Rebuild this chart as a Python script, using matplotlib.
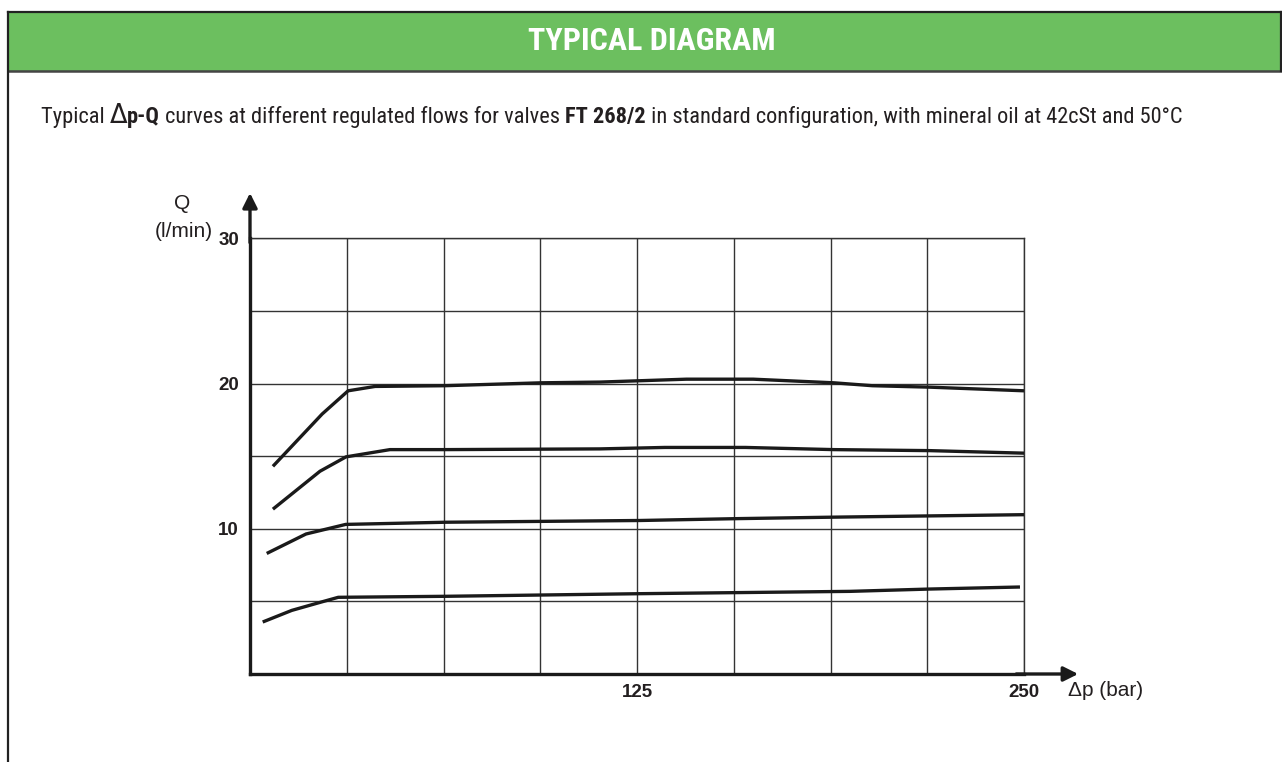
import numpy as np
import matplotlib
matplotlib.use("Agg")
import matplotlib.pyplot as plt
from matplotlib import font_manager
from matplotlib.patches import Rectangle
from matplotlib.lines import Line2D

# curve data: delta p (bar) vs Q (l/min)
dp_20 = [7.4, 23.3, 31.7, 40.4, 63, 94, 113, 141, 162.5, 188.6, 201, 219.6, 250]
q_20 = [14.3, 17.9, 19.5, 19.8, 19.85, 20.05, 20.1, 20.3, 20.3, 20.05, 19.85, 19.75, 19.5]

dp_15 = [7.4, 22.6, 31.0, 45.2, 63, 113, 134, 160, 188.6, 219.6, 251]
q_15 = [11.35, 13.96, 14.95, 15.45, 15.45, 15.5, 15.6, 15.6, 15.45, 15.38, 15.2]

dp_10 = [5.4, 18.1, 30.9, 63.2, 126, 158, 188.6, 250]
q_10 = [8.3, 9.64, 10.3, 10.45, 10.57, 10.7, 10.8, 10.97]

dp_5 = [4.1, 13.5, 22.6, 28.5, 63.2, 126, 193.8, 219.6, 248.7]
q_5 = [3.58, 4.38, 4.93, 5.28, 5.35, 5.53, 5.69, 5.85, 5.99]

x_ticks = [125, 250]
y_ticks = [10, 20, 30]

title = "TYPICAL DIAGRAM"
subtitle_runs = [
    ("Typical ", "normal"),
    ("\u0394", "symbol"),
    ("p-Q", "bold"),
    (" curves at different regulated flows for valves ", "normal"),
    ("FT 268/2", "bold"),
    (" in standard configuration, with mineral oil at 42cSt and 50\u00b0C", "normal"),
]

# pick a narrow font for the header texts if one is installed
names = {f.name for f in font_manager.fontManager.ttflist}
narrow = "DejaVu Sans"
for cand in ["Roboto Condensed", "Liberation Sans Narrow", "Open Sans Condensed",
             "Noto Sans Condensed", "DejaVu Sans Condensed"]:
    if cand in names:
        narrow = cand
        break

W, H = 1282, 762
fig = plt.figure(figsize=(W / 100, H / 100), dpi=100)
fig.patch.set_facecolor("white")

# green header band and frame
fig.patches.append(Rectangle((8 / W, 1 - 70.7 / H), 1 - 8 / W, 59 / H,
                             transform=fig.transFigure, facecolor="#6cbf5f",
                             edgecolor="none", zorder=0))
frame = dict(transform=fig.transFigure, color="#222222")
fig.lines.append(Line2D([8 / W, 1], [1 - 11.7 / H] * 2, lw=1.6, **frame))
fig.lines.append(Line2D([8 / W, 1], [1 - 70.7 / H] * 2, lw=1.8, color="#444444",
                        transform=fig.transFigure))
fig.lines.append(Line2D([8 / W, 8 / W], [0, 1 - 11.7 / H], lw=1.6, **frame))
fig.lines.append(Line2D([1 - 1 / W, 1 - 1 / W], [1 - 70.7 / H, 1 - 11.7 / H], lw=1.6, **frame))

fig.text(652 / W, 1 - 41 / H, title, color="white", fontsize=23, fontweight="bold",
         family=narrow, ha="center", va="center")


# subtitle with mixed weights, placed run by run
def put_subtitle(size, x0, y0):
    renderer = fig.canvas.get_renderer()
    x = x0
    texts = []
    for s, kind in subtitle_runs:
        if kind == "symbol":
            t = fig.text(x, y0, s, fontsize=size * 1.15, family="DejaVu Sans",
                         color="#231f20", va="baseline")
        else:
            t = fig.text(x, y0, s, fontsize=size, family=narrow,
                         fontweight=kind, color="#231f20", va="baseline")
        texts.append(t)
        x = t.get_window_extent(renderer).x1 / fig.bbox.width
    return texts, x


x_start, x_end = 41 / W, 1183 / W
runs, x_stop = put_subtitle(18, x_start, 1 - 123 / H)
size = 18 * (x_end - x_start) / (x_stop - x_start)
for t in runs:
    t.remove()
put_subtitle(size, x_start, 1 - 123 / H)

# chart
ax = fig.add_axes([250 / W, 88 / H, 774 / W, 435.7 / H])
ax.set_xlim(0, 250)
ax.set_ylim(0, 30)

for dp, q in [(dp_20, q_20), (dp_15, q_15), (dp_10, q_10), (dp_5, q_5)]:
    ax.plot(dp, q, color="#1a1a1a", lw=2.4, solid_capstyle="butt", zorder=3)

ax.set_xticks(x_ticks)
ax.set_yticks(y_ticks)
ax.set_xticks(np.arange(31.25, 251, 31.25), minor=True)
ax.set_yticks(np.arange(5, 31, 5), minor=True)
ax.grid(which="minor", color="#333333", lw=1.0)
ax.grid(which="major", color="#333333", lw=1.0)
ax.tick_params(which="both", length=0)
ax.tick_params(axis="x", pad=7)
ax.tick_params(axis="y", pad=8)
for lab in ax.get_xticklabels() + ax.get_yticklabels():
    lab.set_fontweight("bold")
    lab.set_fontsize(13.5)
    lab.set_family("Liberation Sans")
    lab.set_color("#231f20")

for side in ["top", "right"]:
    ax.spines[side].set_linewidth(1.0)
    ax.spines[side].set_color("#333333")
for side in ["left", "bottom"]:
    ax.spines[side].set_linewidth(2.4)
    ax.spines[side].set_color("#1a1a1a")

arrow = dict(arrowstyle="-|>", lw=2.4, color="#1a1a1a", mutation_scale=22,
             shrinkA=0, shrinkB=0)
ax.annotate("", xy=(0, 1.104), xytext=(0, 0.99), xycoords="axes fraction",
            arrowprops=arrow, annotation_clip=False)
ax.annotate("", xy=(1.07, 0), xytext=(0.99, 0), xycoords="axes fraction",
            arrowprops=arrow, annotation_clip=False)

ax.text(-0.088, 1.081, "Q", transform=ax.transAxes, fontsize=15,
        family="Liberation Sans", ha="center", va="center", color="#231f20")
ax.text(-0.085, 1.0145, "(l/min)", transform=ax.transAxes, fontsize=15,
        family="Liberation Sans", ha="center", va="center", color="#231f20")
ax.text(1.057, -0.037, "\u0394p (bar)", transform=ax.transAxes, fontsize=15,
        family="Liberation Sans", ha="left", va="center", color="#231f20")

fig.savefig("out.png", dpi=100)
